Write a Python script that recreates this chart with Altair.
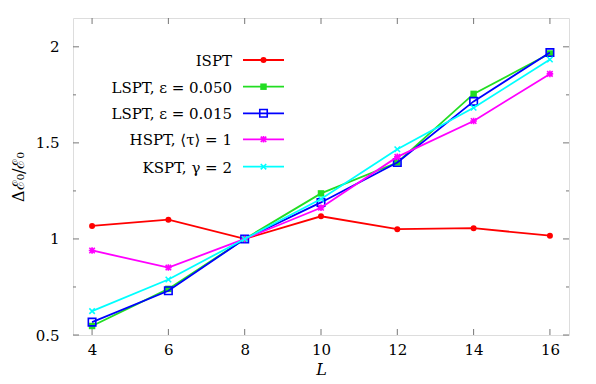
import altair as alt
import pandas as pd

L = [4, 6, 8, 10, 12, 14, 16]
ispt = [1.068, 1.100, 1.000, 1.118, 1.051, 1.056, 1.017]
lspt050 = [0.547, 0.740, 1.000, 1.237, 1.398, 1.755, 1.965]
lspt015 = [0.567, 0.730, 1.000, 1.190, 1.398, 1.716, 1.970]
hspt = [0.940, 0.851, 1.000, 1.162, 1.427, 1.614, 1.859]
kspt = [0.624, 0.789, 1.000, 1.208, 1.467, 1.683, 1.934]

labels = ["ISPT", "LSPT, ε = 0.050", "LSPT, ε = 0.015", "HSPT, ⟨τ⟩ = 1", "KSPT, γ = 2"]
colors = ["#ff0000", "#22dd22", "#0000ff", "#ff00ff", "#00ffff"]
series = [ispt, lspt050, lspt015, hspt, kspt]

x_ticks = [4, 6, 8, 10, 12, 14, 16]
y_ticks = [0.5, 1.0, 1.5, 2.0]
y_minor = [0.75, 1.25, 1.75]

W, H = 496, 317
FONT = "DejaVu Serif"

XPATH = "M-1,-1L1,1M-1,1L1,-1"
STAR = "M-1,-1L1,1M-1,1L1,-1M-1.2,0L1.2,0M0,-1.2L0,1.2"
markers = [
    dict(shape="circle", filled=True, size=36),
    dict(shape="square", filled=True, size=42),
    dict(shape="square", filled=False, size=56, strokeWidth=1.6),
    dict(shape=STAR, filled=False, size=30, strokeWidth=1.6),
    dict(shape=XPATH, filled=False, size=30, strokeWidth=1.6),
]

xs = alt.Scale(domain=[3.5, 16.5], nice=False, zero=False)
ys = alt.Scale(domain=[0.5, 2.15], nice=False, zero=False)

layers = []
first = True
for lab, col, vals, mk in zip(labels, colors, series, markers):
    df = pd.DataFrame({"L": L, "v": vals, "s": lab})
    if first:
        xenc = alt.X("L:Q", scale=xs, title="L",
                     axis=alt.Axis(values=x_ticks, grid=False, ticks=False, domain=False,
                                   labelFont=FONT, labelFontSize=15, labelColor="#000",
                                   labelPadding=7, titleFont=FONT, titleFontSize=16,
                                   titleFontStyle="italic", titleFontWeight="normal",
                                   titlePadding=4, titleColor="#000"))
        yenc = alt.Y("v:Q", scale=ys, title="Δℰ₀/ℰ₀",
                     axis=alt.Axis(values=y_ticks, grid=False, ticks=False, domain=False,
                                   labelFont=FONT, labelFontSize=15, labelColor="#000",
                                   labelPadding=14, format="~g", titleFont=FONT,
                                   titleFontSize=16, titleFontWeight="normal",
                                   titlePadding=9, titleColor="#000"))
        first = False
    else:
        xenc = alt.X("L:Q", scale=xs)
        yenc = alt.Y("v:Q", scale=ys)
    base = alt.Chart(df).encode(x=xenc, y=yenc)
    layers.append(base.mark_line(color=col, strokeWidth=1.8))
    pm = dict(mk)
    pm["color"] = col
    pm["opacity"] = 1
    layers.append(base.mark_point(**pm))

# inward ticks (gnuplot style), mirrored on all sides
xt = pd.DataFrame({"t": x_ticks})
yt = pd.DataFrame({"t": y_ticks})
ym = pd.DataFrame({"t": y_minor})
TC = "#777777"
layers.append(alt.Chart(xt).mark_rule(color=TC, strokeWidth=1).encode(
    x=alt.X("t:Q", scale=xs), y=alt.value(H), y2=alt.value(H - 6)))
layers.append(alt.Chart(xt).mark_rule(color=TC, strokeWidth=1).encode(
    x=alt.X("t:Q", scale=xs), y=alt.value(0), y2=alt.value(6)))
for df, ln in ((yt, 6), (ym, 3)):
    layers.append(alt.Chart(df).mark_rule(color=TC, strokeWidth=1).encode(
        y=alt.Y("t:Q", scale=ys), x=alt.value(0), x2=alt.value(ln)))
    layers.append(alt.Chart(df).mark_rule(color=TC, strokeWidth=1).encode(
        y=alt.Y("t:Q", scale=ys), x=alt.value(W), x2=alt.value(W - ln)))

# legend (label left, sample right)
leg_y = [42, 68.7, 95.3, 121.3, 148.7]
one = pd.DataFrame({"k": [0]})
for lab, col, mk, ly in zip(labels, colors, markers, leg_y):
    layers.append(alt.Chart(one).mark_text(text=lab, align="right", baseline="middle",
                                           font=FONT, fontSize=15, color="#000").encode(
        x=alt.value(159), y=alt.value(ly + 1)))
    layers.append(alt.Chart(one).mark_rule(color=col, strokeWidth=1.8).encode(
        x=alt.value(170), x2=alt.value(211), y=alt.value(ly)))
    pm = dict(mk)
    pm["color"] = col
    pm["opacity"] = 1
    layers.append(alt.Chart(one).mark_point(**pm).encode(x=alt.value(190.5), y=alt.value(ly)))

chart = alt.layer(*layers).properties(
    width=W, height=H,
    autosize=alt.AutoSizeParams(type="none"),
    padding={"left": 65, "top": 10, "right": 10, "bottom": 48},
).configure_view(stroke="#777777", strokeWidth=1.2).configure(background="white")

chart.save("out.html", embed_options={"renderer": "svg", "actions": False})
